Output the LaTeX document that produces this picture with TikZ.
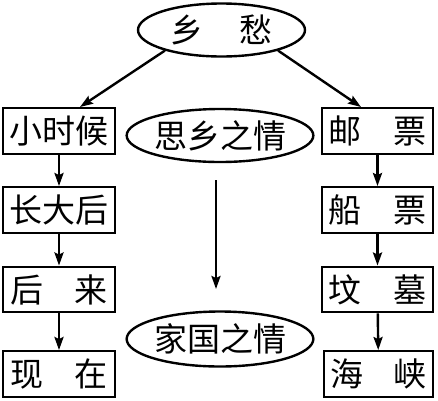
\documentclass[tikz,border=0pt]{standalone}
\usepackage{fontspec}
\newfontfamily\cjk{Noto Sans CJK SC}
\usetikzlibrary{shapes.geometric,arrows.meta}
\begin{document}
\begin{tikzpicture}[x=1pt,y=-1pt,
  every node/.style={font=\cjk\fontsize{33}{33}\selectfont, line width=2.4pt, inner sep=0pt},
  box/.style={draw, rectangle, minimum width=111.5, minimum height=45.5},
  oval/.style={draw, ellipse, minimum width=167, minimum height=53},
  conn/.style={line width=2.4pt, -{Stealth[length=13pt,width=9pt,inset=2pt]}}]
\useasboundingbox (0,0) rectangle (438,400);
\node[oval] (top) at (221.5,30) {乡\hspace{1.1em}愁};
\node[oval] (sx) at (220,135.5) {思乡之情};
\node[oval, minimum height=55] (jg) at (220,339) {家国之情};
\node[box] (l1) at (59,131) {小时候};
\node[box] (l2) at (59,210) {长大后};
\node[box] (l3) at (59,289.5) {\makebox[98pt][s]{后\hfill 来}};
\node[box] (l4) at (59,374) {\makebox[98pt][s]{现\hfill 在}};
\node[box] (r1) at (377.5,131) {\makebox[98pt][s]{邮\hfill 票}};
\node[box] (r2) at (377.5,210) {\makebox[98pt][s]{船\hfill 票}};
\node[box] (r3) at (377.5,289.5) {\makebox[98pt][s]{坟\hfill 墓}};
\node[box, minimum width=109.5] (r4) at (378.5,374) {\makebox[96pt][s]{海\hfill 峡}};
\coordinate (ms) at (216,180);
\coordinate (me) at (216,289);
\coordinate (tle) at (80,107);
\coordinate (tre) at (361,107);
\draw[conn] (top.200) -- (tle);
\draw[conn] (top.-20) -- (tre);
\draw[conn] (ms) -- (me);
\draw[conn] (l1) -- (l2);
\draw[conn] (l2) -- (l3);
\draw[conn] (l3) -- (l4);
\draw[conn] (r1) -- (r2);
\draw[conn] (r2) -- (r3);
\draw[conn] (r3) -- (r4);
\end{tikzpicture}
\end{document}
